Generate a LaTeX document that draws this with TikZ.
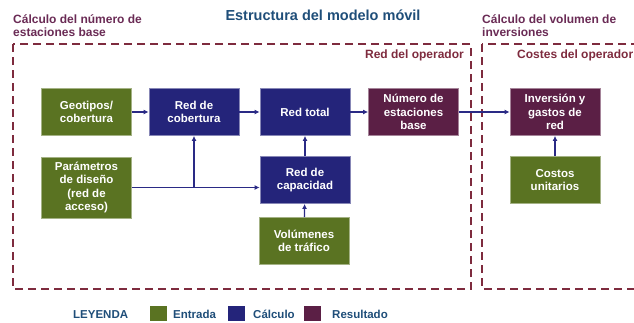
\documentclass[tikz,border=0pt]{standalone}
\usepackage{fontspec}
\setmainfont{Liberation Sans}
\usetikzlibrary{arrows.meta, positioning, calc}
\definecolor{entrada}{HTML}{5A7322}
\definecolor{calculo}{HTML}{24247A}
\definecolor{resultado}{HTML}{5B1F45}
\definecolor{frame}{HTML}{7E2B3E}
\definecolor{header}{HTML}{6A2B55}
\definecolor{titleblue}{HTML}{1F4E79}
\definecolor{flow}{HTML}{2A2A85}

\tikzset{
  block/.style={minimum width=90pt, minimum height=47pt, inner sep=2pt,
        align=center, text=white, line width=0.8pt,
        font=\fontsize{11.5}{13.5}\selectfont\bfseries},
  inbox/.style={block, fill=entrada, draw=entrada!55!white},
  calcbox/.style={block, fill=calculo, draw=calculo!55!white},
  resbox/.style={block, fill=resultado, draw=resultado!55!white},
  flowarrow/.style={-{Latex[length=5pt,width=5pt]}, line width=1.3pt, draw=flow},
  zone/.style={draw=frame, line width=1.8pt, dash pattern=on 8pt off 5pt},
  zonelabel/.style={text=header, align=left, inner sep=0pt,
        font=\fontsize{12}{13.5}\selectfont\bfseries},
  sublabel/.style={text=frame, inner sep=0pt, font=\fontsize{12}{13.5}\selectfont\bfseries},
  legtext/.style={text=titleblue, inner sep=0pt, anchor=west,
        font=\fontsize{11.5}{13.5}\selectfont\bfseries},
  legsquare/.style={minimum width=17pt, minimum height=15pt, inner sep=0pt}
}

\begin{document}
\begin{tikzpicture}[x=1pt, y=-1pt]
  \useasboundingbox (0,0) rectangle (634,322);
  \clip (0,0) rectangle (634,322);
  % Title and zone headings
  \node[text=titleblue, font=\fontsize{14.5}{16}\selectfont\bfseries] (title) at (323,15) {Estructura del modelo móvil};
  \node[zonelabel, anchor=north west] (hdleft) at (13,14) {Cálculo del número de\\estaciones base};
  \node[zonelabel, anchor=north west] (hdright) at (482,14) {Cálculo del volumen de\\inversiones};
  % Dashed zones
  \draw[zone] (13,44) rectangle (471,289);
  \draw[zone] (482,44) rectangle (660,289);
  \node[sublabel, anchor=east] (opnet) at (464,55) {Red del operador};
  \node[sublabel, anchor=west] (opcost) at (517,55) {Costes del operador};
  % Inputs
  \node[inbox] (geo) at (86.5,112) {Geotipos/\\cobertura};
  \node[inbox, minimum height=61pt] (par) at (86.5,187.5) {Parámetros\\de diseño\\(red de\\acceso)};
  \node[inbox] (vol) at (304,241) {Volúmenes\\de tráfico};
  \node[inbox] (cost) at (555,180) {Costos\\unitarios};
  % Calculations
  \node[calcbox] (cob) at (194,112) {Red de\\cobertura};
  \node[calcbox] (tot) at (305,112) {Red total};
  \node[calcbox] (cap) at (305,180) {Red de\\capacidad};
  % Results
  \node[resbox] (nbs) at (413.5,112) {Número de\\estaciones\\base};
  \node[resbox] (inv) at (555,112) {Inversión y\\gastos de\\red};
  % Arrows
  \coordinate (junc) at (cob.south |- par.east);
  \draw[flowarrow] (geo) -- (cob);
  \draw[flowarrow] (cob) -- (tot);
  \draw[flowarrow] (tot) -- (nbs);
  \draw[flowarrow] (nbs) -- (inv);
  \draw[flowarrow] (par.east) -- (par.east -| cap.west);
  \draw[flowarrow] (junc) -- (cob.south);
  \draw[flowarrow] (cap) -- (tot);
  \draw[flowarrow] (vol) -- (cap);
  \draw[flowarrow] (cost) -- (inv);
  % Legend
  \node[legtext] (leg) at (73,314.5) {LEYENDA};
  \node[legsquare, fill=entrada, anchor=north west] (sqin) at (150,306) {};
  \node[legtext] (lgin) at (173,314.5) {Entrada};
  \node[legsquare, fill=calculo, anchor=north west] (sqcalc) at (228,306) {};
  \node[legtext] (lgcalc) at (253,314.5) {Cálculo};
  \node[legsquare, fill=resultado, anchor=north west] (sqres) at (304,306) {};
  \node[legtext] (lgres) at (332,314.5) {Resultado};
\end{tikzpicture}
\end{document}
